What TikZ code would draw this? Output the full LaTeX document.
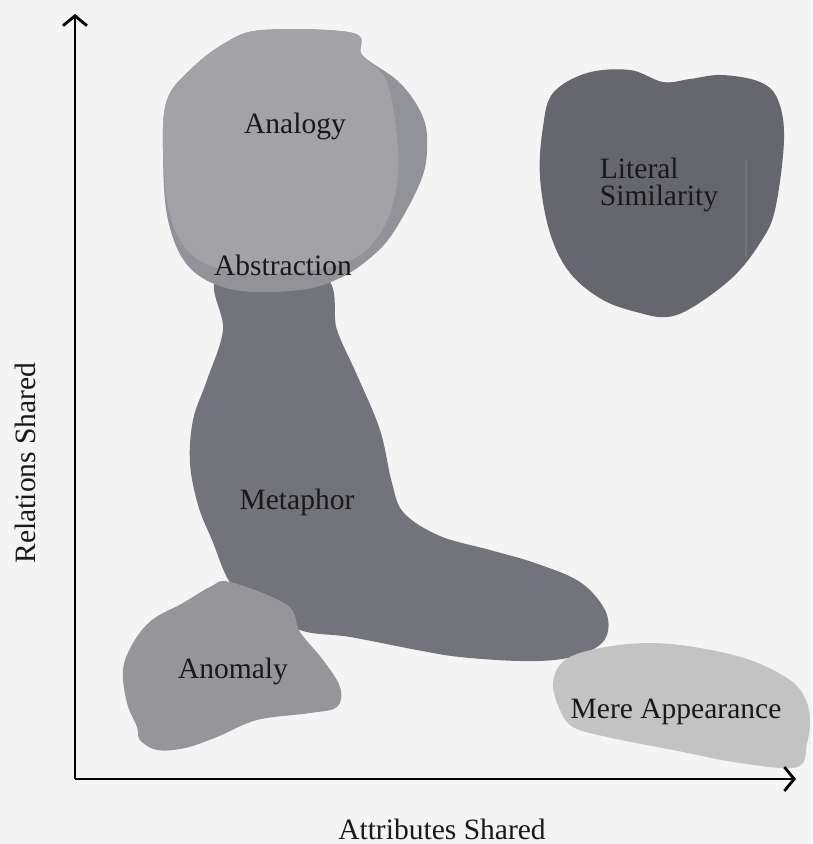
\documentclass[tikz,border=0pt]{standalone}
\usepackage{fontspec}
\setmainfont{Liberation Serif}
\usetikzlibrary{arrows.meta}

\definecolor{paper}{HTML}{F4F4F4}
\definecolor{analogyback}{HTML}{929299}
\definecolor{analogyfront}{HTML}{A2A2A7}
\definecolor{metaphorgray}{HTML}{73737B}
\definecolor{literalgray}{HTML}{66666F}
\definecolor{anomalygray}{HTML}{96969A}
\definecolor{appeargray}{HTML}{C3C3C3}

\begin{document}
\begin{tikzpicture}[
    x=0.025cm, y=-0.025cm,
    blob/.style={draw=none},
    region/.style={font=\fontsize{21}{19.5}\selectfont, text=black!90},
    axis/.style={line width=2pt, -{Straight Barb[length=7pt, width=17pt, line width=2pt]}},
    axislabel/.style={font=\fontsize{21}{24}\selectfont, text=black!90},
]
  \path[use as bounding box, fill=paper] (0,0) rectangle (812,844);

  % regions of the similarity space
  \fill[blob, metaphorgray] plot[smooth cycle, tension=0.6] coordinates {
    (220,275) (322,275) (337,330) (357,375) (380,430) (392,483) (404,513)
    (440,536) (490,550) (535,563) (580,582) (605,610) (607,635) (592,650)
    (562,659) (520,661) (460,657) (417,650) (350,637) (300,630) (265,605)
    (232,585) (212,540) (198,505) (190,463) (193,420) (207,380) (223,330)};
  \fill[blob, analogyback] plot[smooth cycle, tension=0.6] coordinates {
    (263,30) (353,33) (362,55) (400,83) (423,117) (427,150) (420,183)
    (393,233) (370,258) (340,278) (300,290) (235,290) (190,268) (168,220)
    (163,150) (167,100) (190,70) (225,43)};
  \fill[blob, analogyfront] plot[smooth cycle, tension=0.6] coordinates {
    (263,30) (353,33) (362,55) (385,78) (395,120) (398,175) (385,225)
    (355,258) (300,272) (235,272) (192,255) (170,215) (163,150) (167,100)
    (190,70) (225,43)};
  \fill[blob, literalgray] plot[smooth cycle, tension=0.6] coordinates {
    (553,93) (587,73) (630,70) (663,82) (690,79) (722,75) (760,82) (778,100)
    (784,140) (775,210) (760,243) (733,277) (693,307) (667,317) (640,313)
    (603,300) (570,273) (550,233) (540,177) (543,127)};
  \draw[line width=1.4pt, black!55] (746,160) -- (746,257);
  \fill[blob, anomalygray] plot[smooth cycle, tension=0.6] coordinates {
    (210,587) (230,582) (287,605) (300,632) (323,660) (340,687) (337,707)
    (310,713) (257,720) (217,737) (185,748) (157,750) (140,740)
    (137,727) (127,703) (123,670) (133,643) (152,620) (183,603)};
  \fill[blob, appeargray] plot[smooth cycle, tension=0.6] coordinates {
    (553,683) (565,660) (600,648) (650,643) (700,648) (750,660) (790,680)
    (806,700) (810,722) (807,743) (797,767) (740,763) (673,750) (607,737)
    (573,727) (560,710)};

  \node[region] (analogy) at (295,126) {Analogy};
  \node[region] (abstraction) at (283,265) {Abstraction};
  \node[region, align=left] (literal) at (659,185) {Literal\\Similarity};
  \node[region] (metaphor) at (297,502) {Metaphor};
  \node[region] (anomaly) at (233,671) {Anomaly};
  \node[region] (appearance) at (676,712) {Mere Appearance};

  % axes
  \coordinate (origin) at (75,779);
  \coordinate (ytip) at (75,14);
  \coordinate (xtip) at (796,779);
  \draw[axis] (origin) -- (ytip);
  \draw[axis] (origin) -- (xtip);

  \node[axislabel] (xlabel) at (442,829) {Attributes Shared};
  \node[axislabel, rotate=90] (ylabel) at (25,463) {Relations Shared};
\end{tikzpicture}
\end{document}
